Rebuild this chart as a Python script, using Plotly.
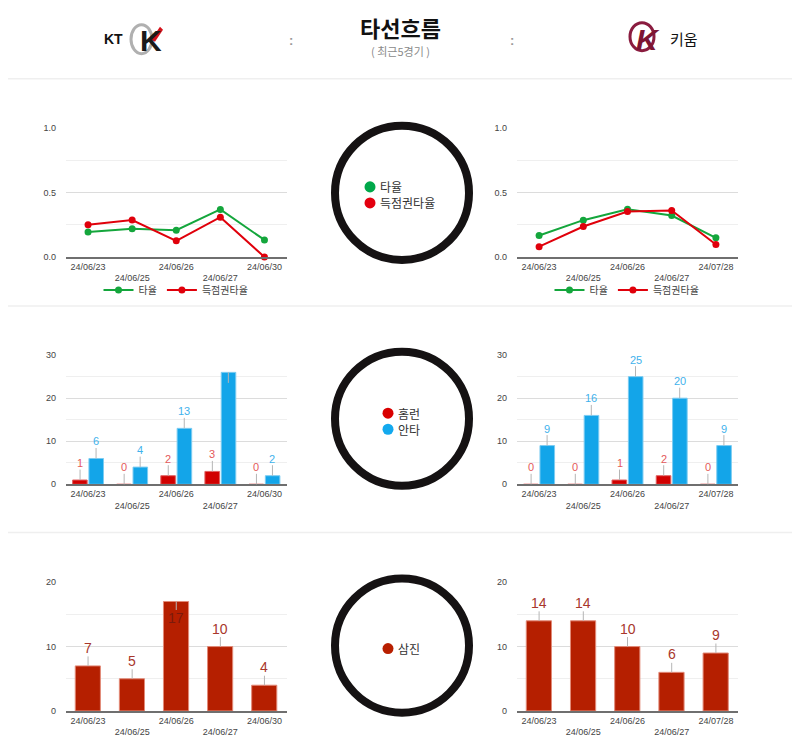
import plotly.graph_objects as go

# ---------------- data ----------------
dates_kt = ["24/06/23", "24/06/25", "24/06/26", "24/06/27", "24/06/30"]
dates_kw = ["24/06/23", "24/06/25", "24/06/26", "24/06/27", "24/07/28"]

avg_kt = [0.194, 0.219, 0.207, 0.368, 0.132]
risp_kt = [0.250, 0.286, 0.125, 0.308, 0.000]
avg_kw = [0.166, 0.285, 0.370, 0.321, 0.148]
risp_kw = [0.080, 0.236, 0.352, 0.360, 0.096]

hr_kt = [1, 0, 2, 3, 0]
hit_kt = [6, 4, 13, 26, 2]
hr_kw = [0, 0, 1, 2, 0]
hit_kw = [9, 16, 25, 20, 9]

so_kt = [7, 5, 17, 10, 4]
so_kw = [14, 14, 10, 6, 9]

OFF = 8  # page body margin
W, H = 800 - 2 * OFF, 756 - 2 * OFF
FONT = "Arial, 'Liberation Sans', 'Noto Sans CJK KR', sans-serif"
KFONT = "'Noto Sans CJK KR', 'Noto Sans', sans-serif"

GREEN = "#14a63c"
RED_LINE = "#e0000b"
RED_BAR = "#d10000"
BLUE_BAR = "#13a5e9"
SO_BAR = "#b51f00"


def px(x):
    return (x - OFF) / W


def py(y):
    page = (y - 4.5) / 0.985
    return 1 - (page - OFF) / H


def stagger(labels):
    return [l if i % 2 == 0 else "<br>" + l for i, l in enumerate(labels)]


fig = go.Figure()

# ---------------- line charts ----------------
for dates, avg, risp, xa, ya, lg in [(dates_kt, avg_kt, risp_kt, "x", "y", "legend"),
                                     (dates_kw, avg_kw, risp_kw, "x2", "y2", "legend2")]:
    fig.add_trace(go.Scatter(x=dates, y=avg, mode="lines+markers", name="타율",
                             line=dict(color=GREEN, width=2), marker=dict(size=7, color=GREEN),
                             cliponaxis=False, xaxis=xa, yaxis=ya, legend=lg))
    fig.add_trace(go.Scatter(x=dates, y=risp, mode="lines+markers", name="득점권타율",
                             line=dict(color=RED_LINE, width=2), marker=dict(size=7, color=RED_LINE),
                             cliponaxis=False, xaxis=xa, yaxis=ya, legend=lg))

# ---------------- HR / hits bars ----------------
for dates, hr, hit, xa, ya in [(dates_kt, hr_kt, hit_kt, "x3", "y3"),
                                (dates_kw, hr_kw, hit_kw, "x4", "y4")]:
    fig.add_trace(go.Bar(x=dates, y=hr, name="홈런", marker=dict(color=RED_BAR, line=dict(width=1, color="#e06060")),
                         offset=-0.35, width=0.33, xaxis=xa, yaxis=ya, showlegend=False, cliponaxis=False))
    fig.add_trace(go.Bar(x=dates, y=hit, name="안타", marker=dict(color=BLUE_BAR, line=dict(width=1, color="#7cccf2")),
                         offset=0.02, width=0.33, xaxis=xa, yaxis=ya, showlegend=False, cliponaxis=False))

# ---------------- strikeout bars ----------------
for dates, so, xa, ya in [(dates_kt, so_kt, "x5", "y5"), (dates_kw, so_kw, "x6", "y6")]:
    fig.add_trace(go.Bar(x=dates, y=so, name="삼진", marker=dict(color=SO_BAR, line=dict(width=1, color="#e28a78")),
                         offset=-0.29, width=0.57, xaxis=xa, yaxis=ya, showlegend=False, cliponaxis=False))

# ---------------- axes ----------------
LEFT = [px(66), px(286.5)]
RIGHT = [px(517), px(738)]
ROWS = {
    "top": [py(256), py(127)],
    "mid": [py(483), py(354)],
    "bot": [py(709.3), py(580.7)],
}

axis_specs = [
    ("", LEFT, "top", dates_kt, [0, 1], 0.5, 0.25, ".1f"),
    ("2", RIGHT, "top", dates_kw, [0, 1], 0.5, 0.25, ".1f"),
    ("3", LEFT, "mid", dates_kt, [0, 30], 10, 5, "d"),
    ("4", RIGHT, "mid", dates_kw, [0, 30], 10, 5, "d"),
    ("5", LEFT, "bot", dates_kt, [0, 20], 10, 5, "d"),
    ("6", RIGHT, "bot", dates_kw, [0, 20], 10, 5, "d"),
]
layout_axes = {}
for sfx, xdom, row, dates, yr, dt, mdt, fmt in axis_specs:
    layout_axes["xaxis" + sfx] = dict(
        domain=xdom, anchor="y" + sfx, type="category", range=[-0.5, 4.5],
        tickvals=dates, ticktext=stagger(dates), showgrid=False, zeroline=False,
        showline=True, linecolor="#6f6f6f", linewidth=1.5, ticks="",
        tickfont=dict(family=FONT, size=9, color="#444"), fixedrange=True,
    )
    layout_axes["yaxis" + sfx] = dict(
        domain=ROWS[row], anchor="x" + sfx, range=yr, dtick=dt, tick0=0,
        tickformat=fmt, showgrid=True, gridcolor="#dcdcdc", gridwidth=1,
        zeroline=False, showline=False, ticks="", ticklabelstandoff=9,
        minor=dict(dtick=mdt, tick0=0, showgrid=True, gridcolor="#efefef", gridwidth=1),
        tickfont=dict(family=FONT, size=9, color="#444"), fixedrange=True,
    )

# ---------------- bar value annotations ----------------
annotations = []


def bar_label(x, y, xa, ya, text, color, shift, size, ay):
    annotations.append(dict(
        x=x, y=y, xref=xa, yref=ya, text=str(text), showarrow=True, arrowhead=0,
        arrowwidth=1, arrowcolor="#b5b5b5", ax=0, ay=ay, xshift=shift, borderpad=0,
        font=dict(family=FONT, size=size, color=color),
    ))


for dates, hr, hit, xa, ya in [(dates_kt, hr_kt, hit_kt, "x3", "y3"),
                                (dates_kw, hr_kw, hit_kw, "x4", "y4")]:
    for d, v in zip(dates, hr):
        bar_label(d, v, xa, ya, v, "#e4595b", -8, 11, -17)
    for d, v in zip(dates, hit):
        if v > 25:
            bar_label(d, v, xa, ya, v, BLUE_BAR, 8, 11, 17)
        else:
            bar_label(d, v, xa, ya, v, "#3fb2ec", 8, 11, -17)

for dates, so, xa, ya in [(dates_kt, so_kt, "x5", "y5"), (dates_kw, so_kw, "x6", "y6")]:
    for d, v in zip(dates, so):
        if v > 16:
            bar_label(d, v, xa, ya, v, "#7b1a0c", 0, 14, 17)
        else:
            bar_label(d, v, xa, ya, v, "#a8372b", 0, 14, -18)


def txt(x, y, text, size, color, family=FONT, xanchor="center"):
    annotations.append(dict(x=px(x), y=py(y), xref="paper", yref="paper", text=text, showarrow=False,
                            xanchor=xanchor, yanchor="middle", borderpad=0,
                            font=dict(family=family, size=size, color=color)))


# ---------------- header ----------------
txt(400, 26, "<b>타선흐름</b>", 22, "#111", KFONT)
txt(400, 50, "( 최근5경기 )", 11, "#8a8a8a", KFONT)
txt(291, 40, "<b>:</b>", 13, "#999")
txt(512, 40, "<b>:</b>", 13, "#999")
txt(113, 38, "<b>KT</b>", 14, "#111")
txt(151, 40, "<b>K</b>", 30, "#1a1a1a")
txt(648, 39, "<b><i>K</i></b>", 30, "#7d1533")
txt(684, 38, "키움", 15, "#111", KFONT)

shapes = []


# ---------------- circle legends ----------------
def dot_label(xc, yc, color, text):
    shapes.append(dict(type="circle", xref="paper", yref="paper",
                       x0=px(xc - 5.5), x1=px(xc + 5.5), y0=py(yc + 5.5), y1=py(yc - 5.5),
                       fillcolor=color, line=dict(width=0)))
    txt(xc + 9, yc, text, 12, "#333", KFONT, xanchor="left")


dot_label(370, 186, "#00a84a", "타율")
dot_label(370, 202, "#e3000f", "득점권타율")
dot_label(388, 412, "#d90000", "홈런")
dot_label(388, 428, "#13a9ee", "안타")
dot_label(388, 647, "#b81f00", "삼진")

# ---------------- shapes ----------------
for yy in [78, 305, 531]:
    shapes.append(dict(type="line", xref="paper", yref="paper", x0=0, x1=1, y0=py(yy), y1=py(yy),
                       line=dict(color="#efefef", width=1.5)))
R = 67
for cy in [192, 417.5, 644]:
    shapes.append(dict(type="circle", xref="paper", yref="paper",
                       x0=px(402 - R), x1=px(402 + R), y0=py(cy + R), y1=py(cy - R),
                       line=dict(color="#151213", width=8)))
# logo rings / accent
shapes.append(dict(type="circle", xref="paper", yref="paper", x0=px(131), x1=px(152), y0=py(53), y1=py(24),
                   line=dict(color="#b0b0b0", width=3)))
shapes.append(dict(type="path", xref="paper", yref="paper",
                   path=f"M {px(151)} {py(39)} L {px(160)} {py(26)} L {px(163)} {py(29)} L {px(155)} {py(41)} Z",
                   fillcolor="#d4121b", line=dict(width=0)))
shapes.append(dict(type="circle", xref="paper", yref="paper", x0=px(630), x1=px(654), y0=py(50), y1=py(22),
                   line=dict(color="#8a1c3f", width=3)))

fig.update_layout(
    width=W, height=H, margin=dict(l=0, r=0, t=0, b=0),
    paper_bgcolor="white", plot_bgcolor="white",
    barmode="overlay", annotations=annotations, shapes=shapes,
    font=dict(family=FONT),
    legend=dict(orientation="h", x=px(176), y=py(289), xanchor="center", yanchor="middle",
                font=dict(family=KFONT, size=10, color="#444"), bgcolor="rgba(0,0,0,0)",
                itemwidth=30, tracegroupgap=0),
    legend2=dict(orientation="h", x=px(627), y=py(289), xanchor="center", yanchor="middle",
                 font=dict(family=KFONT, size=10, color="#444"), bgcolor="rgba(0,0,0,0)",
                 itemwidth=30, tracegroupgap=0),
    **layout_axes,
)

fig.write_html("out.html")
